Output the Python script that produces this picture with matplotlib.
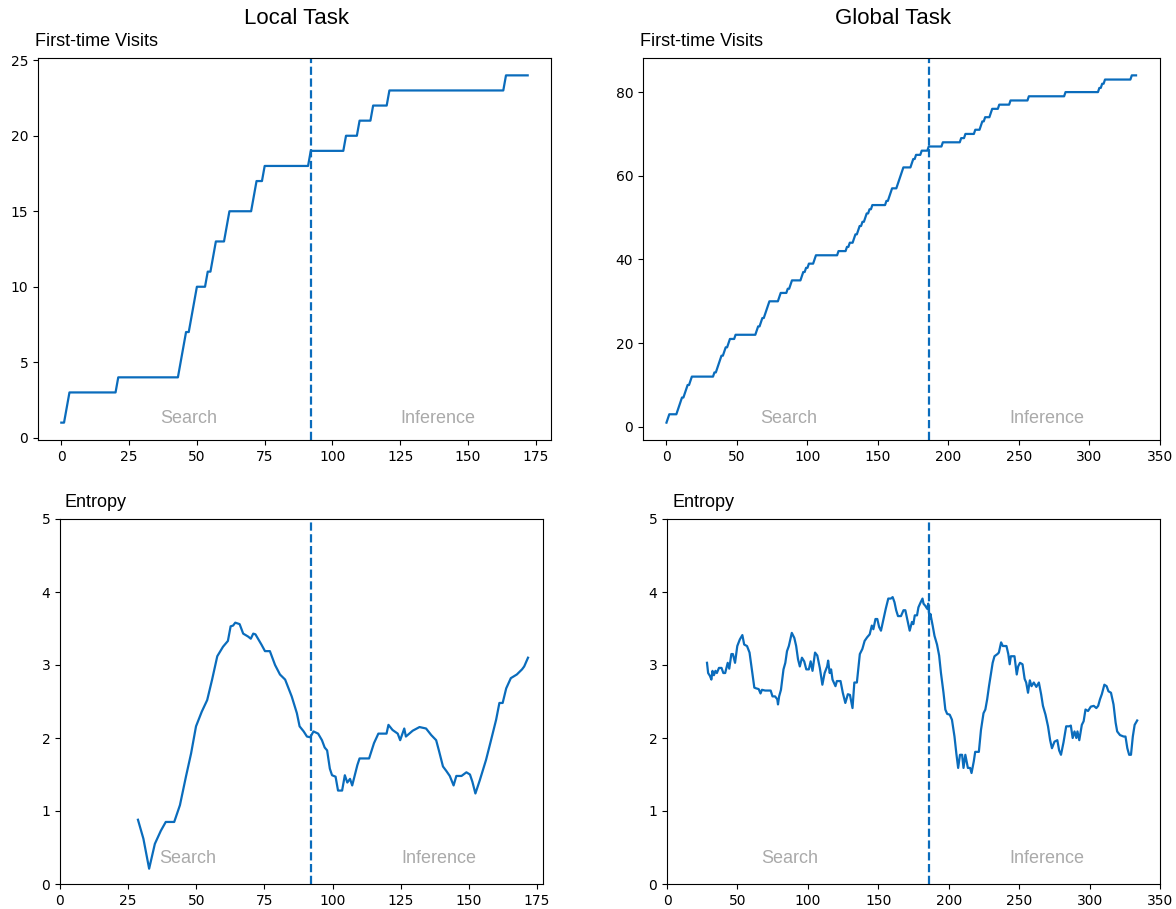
#!/usr/bin/env python3
"""
First-time visits and entropy over steps, local vs global task
"""

import numpy as np
import matplotlib
matplotlib.use('Agg')
import matplotlib.pyplot as plt

LINE = '#0a6cbc'
GRAY = '#aaaaaa'
LABEL_FONT = 'Liberation Sans'

# step at which each new location was visited for the first time
local_visit_steps = [0, 2, 3, 21, 44, 45, 46, 48, 49, 50, 54, 56, 57, 61, 62,
                     71, 72, 75, 92, 105, 110, 115, 121, 164]
local_last_step = 172
local_split = 92

global_visit_steps = [0, 1, 2, 8, 9, 10, 11, 13, 14, 15, 17, 18, 34, 36, 37, 38,
                      39, 41, 42, 44, 45, 49, 64, 65, 67, 68, 70, 71, 72, 73,
                      80, 81, 86, 88, 89, 96, 97, 99, 101, 105, 106, 122, 128,
                      130, 133, 134, 136, 137, 139, 141, 142, 144, 146, 156,
                      158, 159, 160, 164, 165, 166, 167, 168, 174, 175, 177,
                      181, 186, 196, 209, 212, 219, 223, 224, 226, 230, 231,
                      236, 244, 257, 283, 307, 309, 311, 330]
global_last_step = 333
global_split = 186

# entropy
local_ent_x = [28.6, 30.6, 32.7, 34.8, 37.0, 38.8, 41.9, 44.0, 46.2, 48.1, 49.9,
               52.0, 54.0, 55.8, 57.7, 59.8, 61.6, 62.6, 63.5, 64.3, 65.9, 67.2,
               69.0, 70.0, 70.9, 71.7, 73.9, 75.2, 77.0, 78.9, 80.7, 82.6, 85.0,
               86.9, 87.9, 89.4, 90.6, 91.8, 93.0, 94.7, 96.1, 97.1, 98.0, 99.0,
               99.8, 101.1, 102.0, 103.5, 104.5, 105.4, 106.4, 107.2, 109.1,
               109.9, 113.4, 115.2, 116.8, 119.8, 120.5, 122.0, 123.9, 124.8,
               126.3, 126.9, 129.4, 131.9, 134.3, 136.2, 138.0, 139.0, 140.5,
               141.7, 143.0, 144.4, 145.4, 147.3, 149.1, 150.4, 151.3, 152.4,
               154.0, 156.3, 158.0, 160.0, 161.2, 162.4, 163.7, 165.4, 167.6,
               169.5, 170.3, 171.7]
local_ent_y = [0.88, 0.62, 0.21, 0.55, 0.73, 0.85, 0.85, 1.08, 1.47, 1.79, 2.16,
               2.36, 2.52, 2.80, 3.12, 3.25, 3.33, 3.53, 3.54, 3.58, 3.56, 3.43,
               3.39, 3.36, 3.43, 3.42, 3.28, 3.19, 3.19, 3.00, 2.87, 2.80, 2.57,
               2.34, 2.16, 2.09, 2.02, 2.01, 2.09, 2.06, 1.97, 1.87, 1.83, 1.58,
               1.49, 1.47, 1.28, 1.28, 1.49, 1.39, 1.44, 1.35, 1.63,
               1.72, 1.72, 1.93, 2.06, 2.06, 2.18, 2.11, 2.06, 1.97,
               2.13, 2.02, 2.10, 2.15, 2.13, 2.04, 1.97, 1.83, 1.61,
               1.55, 1.48, 1.35, 1.48, 1.48, 1.53, 1.50, 1.40, 1.24,
               1.42, 1.70, 1.95, 2.25, 2.48, 2.48, 2.68, 2.82, 2.87,
               2.94, 2.98, 3.10]

global_ent_x = [28.4, 29.2, 30.5, 31.5, 32.3, 33.3, 34.4, 35.4, 36.9, 38.7, 40.0,
                41.3, 43.1, 44.2, 45.7, 46.8, 48.3, 49.9, 51.7, 53.5, 54.8, 56.8,
                58.6, 60.2, 62.0, 63.3, 65.1, 66.4, 67.4, 69.7, 73.6, 74.9, 76.7,
                78.3, 78.8, 79.6, 80.9, 82.7, 84.0, 85.2, 86.5, 88.6, 90.4, 91.7,
                93.0, 94.3, 95.8, 97.4, 98.9, 100.7, 102.0, 103.3, 105.1, 106.7,
                108.5, 110.3, 111.9, 113.7, 114.4, 115.5, 116.5, 117.5, 119.6,
                120.6, 123.2, 124.8, 126.6, 128.4, 129.9, 131.7, 133.0, 134.8,
                136.9, 138.7, 140.3, 142.1, 143.9, 145.4, 146.5, 148.0, 149.3,
                150.6, 151.9, 153.7, 155.3, 157.1, 158.9, 160.2, 161.5, 162.7,
                164.0, 166.1, 167.9, 169.2, 170.5, 172.3, 173.9, 174.9, 175.9,
                177.5, 178.5, 180.1, 181.4, 182.1, 183.4, 184.7, 185.5, 186.3,
                187.0, 188.6, 189.9, 191.7, 193.2, 194.5, 196.3, 197.6, 198.9,
                200.7, 202.3, 204.1, 205.4, 206.7, 208.0, 209.5, 210.5, 211.8,
                213.6, 215.2, 216.2, 217.8, 218.8, 221.4, 222.9, 224.7, 226.0,
                227.3, 228.6, 229.9, 231.2, 232.5, 234.6, 235.6, 237.2, 238.4,
                241.0, 242.3, 243.3, 244.1, 246.7, 248.3, 249.3, 250.6, 252.4,
                253.9, 255.0, 256.3, 257.6, 258.8, 260.4, 262.2, 264.0, 265.6,
                266.9, 268.7, 270.5, 272.0, 273.3, 275.1, 277.1, 278.4, 279.7,
                281.5, 283.4, 285.5, 286.7, 288.0, 289.3, 290.6, 291.4, 292.7,
                294.5, 295.8, 297.1, 298.9, 300.9, 303.0, 304.8, 306.1, 307.4,
                308.7, 310.5, 312.1, 313.4, 315.2, 317.0, 318.5, 319.6, 321.6,
                324.2, 325.5, 326.8, 328.1, 329.4, 330.7, 332.0, 333.8]
global_ent_y = [3.03, 2.89, 2.85, 2.80, 2.92, 2.86, 2.92, 2.89, 2.96, 2.96, 2.89,
                2.89, 3.03, 2.95, 3.15, 3.15, 3.03, 3.26, 3.35, 3.41, 3.28, 3.26,
                3.17, 2.94, 2.69, 2.68, 2.67, 2.61, 2.66, 2.65, 2.65, 2.57, 2.57,
                2.53, 2.46, 2.57, 2.66, 2.94, 3.03, 3.19, 3.26, 3.44, 3.37, 3.26,
                3.08, 2.98, 3.10, 3.05, 2.94, 2.94, 3.05, 2.92, 3.17, 3.13,
                2.96, 2.73, 2.89, 2.98, 3.06, 2.89, 2.94, 2.80, 2.71,
                2.78, 2.78, 2.62, 2.48, 2.60, 2.59, 2.41, 2.76, 2.76,
                3.15, 3.22, 3.33, 3.38, 3.42, 3.54, 3.49, 3.63, 3.63,
                3.52, 3.47, 3.63, 3.77, 3.91, 3.91, 3.93, 3.86, 3.75,
                3.67, 3.67, 3.75, 3.75, 3.63, 3.47, 3.59, 3.56, 3.68,
                3.68, 3.79, 3.86, 3.91, 3.84, 3.81, 3.77, 3.84, 3.63,
                3.70, 3.54, 3.40, 3.28, 3.13, 2.89, 2.62, 2.39, 2.33,
                2.32, 2.25, 2.02, 1.79, 1.59, 1.77, 1.77, 1.59, 1.77,
                1.59, 1.59, 1.52, 1.68, 1.81, 1.81, 2.11, 2.34, 2.39,
                2.53, 2.71, 2.87, 3.03, 3.12, 3.15, 3.17, 3.31, 3.26,
                3.26, 3.15, 3.01, 3.12, 3.12, 2.87, 2.98, 3.03, 3.01,
                2.81, 2.76, 2.62, 2.79, 2.71, 2.76, 2.70, 2.76, 2.60,
                2.44, 2.32, 2.16, 1.97, 1.86, 1.95, 1.97, 1.83, 1.77,
                1.94, 2.16, 2.16, 2.17, 2.00, 2.09, 2.00, 2.09, 1.97,
                2.18, 2.23, 2.39, 2.37, 2.43, 2.44, 2.41, 2.44, 2.53,
                2.60, 2.73, 2.71, 2.64, 2.62, 2.46, 2.21, 2.09, 2.04,
                2.02, 2.02, 1.86, 1.77, 1.77, 2.02, 2.18, 2.24]

local_phase_x = [47, 139]
global_phase_x = [87, 270]
phase_names = ['Search', 'Inference']


def visit_curve(visit_steps, last_step):
    """Cumulative count of first-time visits at every step."""
    steps = np.arange(last_step + 1)
    counts = np.searchsorted(visit_steps, steps, side='right')
    return steps, counts


def phase_labels(ax, xs, y_frac):
    for x, name in zip(xs, phase_names):
        ax.text(x, y_frac, name, transform=ax.get_xaxis_transform(),
                ha='center', va='center', color=GRAY, fontsize=13,
                family=LABEL_FONT)


def panel_label(ax, text, dx_px):
    ax.annotate(text, xy=(0, 1), xycoords='axes fraction',
                xytext=(dx_px, 8), textcoords='offset pixels',
                ha='left', va='bottom', fontsize=13, family=LABEL_FONT)


fig = plt.figure(figsize=(11.76, 9.09), dpi=100)
ax_lv = fig.add_axes([38 / 1176, 1 - 440 / 909, 513 / 1176, 382 / 909])
ax_gv = fig.add_axes([643 / 1176, 1 - 440 / 909, 517 / 1176, 382 / 909])
ax_le = fig.add_axes([60 / 1176, 1 - 884 / 909, 483 / 1176, 365 / 909])
ax_ge = fig.add_axes([667 / 1176, 1 - 884 / 909, 493 / 1176, 365 / 909])

# first-time visits
x, y = visit_curve(local_visit_steps, local_last_step)
ax_lv.plot(x, y, color=LINE, linewidth=1.6)
ax_lv.set_yticks(np.arange(0, 26, 5))
ax_lv.set_xticks(np.arange(0, 176, 25))

x, y = visit_curve(global_visit_steps, global_last_step)
ax_gv.plot(x, y, color=LINE, linewidth=1.6)
ax_gv.set_yticks(np.arange(0, 81, 20))
ax_gv.set_xticks(np.arange(0, 351, 50))

# entropy
ax_le.plot(local_ent_x, local_ent_y, color=LINE, linewidth=1.6)
ax_le.set_xlim(0, 177.2)
ax_le.set_ylim(0, 5)
ax_le.set_xticks(np.arange(0, 176, 25))

ax_ge.plot(global_ent_x, global_ent_y, color=LINE, linewidth=1.6)
ax_ge.set_xlim(0, 350)
ax_ge.set_ylim(0, 5)
ax_ge.set_xticks(np.arange(0, 351, 50))

for ax in (ax_lv, ax_le):
    ax.axvline(local_split, color=LINE, linestyle='--', linewidth=1.6)
for ax in (ax_gv, ax_ge):
    ax.axvline(global_split, color=LINE, linestyle='--', linewidth=1.6)

phase_labels(ax_lv, local_phase_x, 0.055)
phase_labels(ax_gv, global_phase_x, 0.055)
phase_labels(ax_le, local_phase_x, 0.071)
phase_labels(ax_ge, global_phase_x, 0.071)

panel_label(ax_lv, 'First-time Visits', -3)
panel_label(ax_gv, 'First-time Visits', -3)
panel_label(ax_le, 'Entropy', 5)
panel_label(ax_ge, 'Entropy', 5)

for ax in (ax_lv, ax_gv, ax_le, ax_ge):
    ax.tick_params(labelsize=10)

fig.text(297 / 1176, 1 - 18 / 909, 'Local Task', ha='center', va='center',
         fontsize=16, family=LABEL_FONT)
fig.text(893 / 1176, 1 - 18 / 909, 'Global Task', ha='center', va='center',
         fontsize=16, family=LABEL_FONT)

fig.savefig('out.png', dpi=100)
